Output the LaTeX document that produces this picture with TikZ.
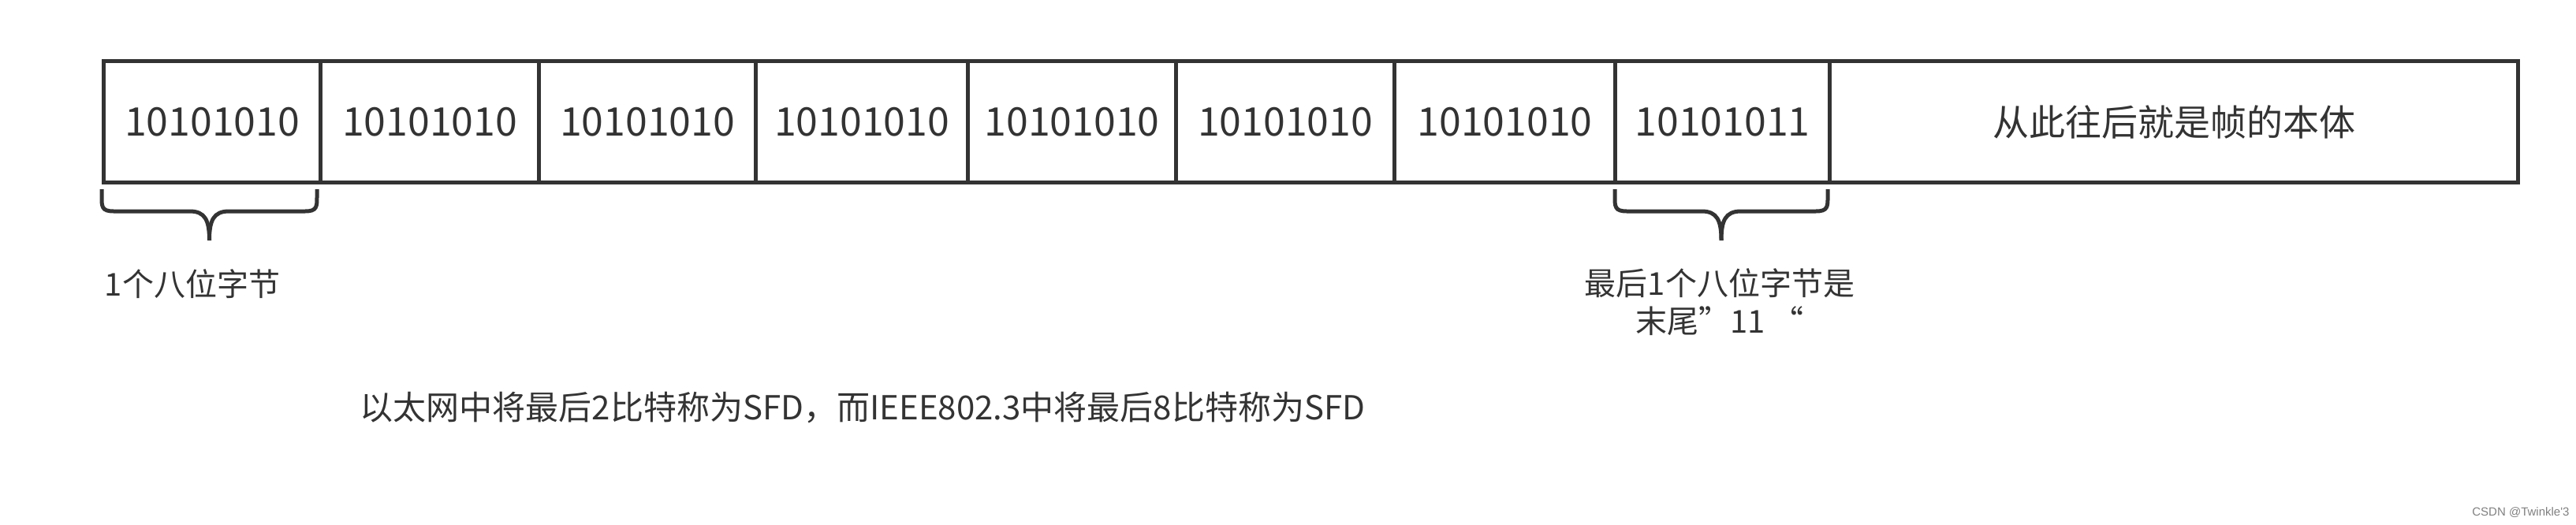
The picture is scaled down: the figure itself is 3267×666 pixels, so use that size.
\documentclass[tikz,border=0pt]{standalone}
\usepackage{fontspec}
\setmainfont{Noto Sans CJK SC}
\newfontfamily\wmfont{Liberation Sans}
\definecolor{ink}{HTML}{333333}
\begin{document}
\begin{tikzpicture}[x=1pt,y=-1pt,
  cell/.style={draw=ink,line width=5pt,minimum height=154pt,inner sep=0pt,anchor=north west,font=\fontsize{50}{60}\selectfont,text=ink},
  lbl/.style={font=\fontsize{40}{48}\selectfont,text=ink,align=center},
  brace/.style={draw=ink,line width=5pt}]
\useasboundingbox (0,0) rectangle (3267,666);
\node[cell,minimum width=275pt] (c1) at (129,75) {10101010};
\node[cell,minimum width=277pt] (c2) at (404,75) {10101010};
\node[cell,minimum width=275pt] (c3) at (681,75) {10101010};
\node[cell,minimum width=269pt] (c4) at (956,75) {10101010};
\node[cell,minimum width=264pt] (c5) at (1225,75) {10101010};
\node[cell,minimum width=277pt] (c6) at (1489,75) {10101010};
\node[cell,minimum width=280pt] (c7) at (1766,75) {10101010};
\node[cell,minimum width=272pt] (c8) at (2046,75) {10101011};
\node[cell,minimum width=873pt,font=\fontsize{46}{55}\selectfont] (c9) at (2318,75) {从此往后就是帧的本体};
\foreach \a/\b in {129/402,2048/2318}{
  \pgfmathsetmacro{\m}{(\a+\b)/2}
  \draw[brace] (\a,240) -- (\a,250) .. controls (\a,262) and (\a,268) .. (\a+15,268)
    -- (\m-25,268) .. controls (\m-5,268) and (\m,280) .. (\m,305);
  \draw[brace] (\b,240) -- (\b,250) .. controls (\b,262) and (\b,268) .. (\b-15,268)
    -- (\m+25,268) .. controls (\m+5,268) and (\m,280) .. (\m,305);
}
\node[lbl] (l1) at (244,360) {1个八位字节};
\node[lbl] (l2) at (2181,383) {最后1个八位字节是\\末尾”11 “};
\node[lbl,font=\fontsize{42}{50}\selectfont] (l3) at (1094,517) {以太网中将最后2比特称为SFD，而IEEE802.3中将最后8比特称为SFD};
\node[font=\wmfont\fontsize{15}{18}\selectfont,text=gray,anchor=east] (wm) at (3262,650) {CSDN @Twinkle'3};
\end{tikzpicture}
\end{document}
